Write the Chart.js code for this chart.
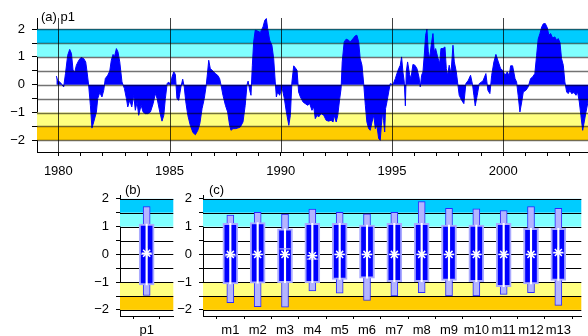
<!DOCTYPE html>
<html>
<head>
<meta charset="utf-8">
<script src="https://cdn.jsdelivr.net/npm/chart.js@4.4.1/dist/chart.umd.min.js"></script>
<style>
  html, body { margin: 0; padding: 0; background: #fff; }
  #wrap { position: relative; width: 588px; height: 336px; overflow: hidden; }
  canvas { position: absolute; }
</style>
</head>
<body>
<div id="wrap">
  <canvas id="chart-a" width="588" height="178" style="left:0;top:0"></canvas>
  <canvas id="chart-b" width="180" height="156" style="left:0;top:180px"></canvas>
  <canvas id="chart-c" width="412" height="156" style="left:176px;top:180px"></canvas>
</div>
<script>
// (a) p1 time series
const years = [
  1979.91, 1979.97, 1980.09, 1980.24, 1980.32, 1980.42, 1980.51, 1980.59, 1980.66, 1980.74,
  1980.81, 1980.92, 1981.02, 1981.14, 1981.23, 1981.29, 1981.36, 1981.44, 1981.51, 1981.59,
  1981.71, 1981.77, 1981.86, 1981.96, 1982.04, 1982.11, 1982.22, 1982.31, 1982.38, 1982.46,
  1982.52, 1982.61, 1982.68, 1982.76, 1982.86, 1982.97, 1983.06, 1983.12, 1983.21, 1983.30,
  1983.39, 1983.46, 1983.54, 1983.61, 1983.72, 1983.81, 1983.91, 1984.02, 1984.14, 1984.26,
  1984.36, 1984.44, 1984.56, 1984.66, 1984.74, 1984.81, 1984.89, 1984.96, 1985.04, 1985.11,
  1985.19, 1985.26, 1985.33, 1985.41, 1985.51, 1985.59, 1985.66, 1985.73, 1985.82, 1985.93,
  1986.05, 1986.16, 1986.27, 1986.36, 1986.46, 1986.56, 1986.65, 1986.71, 1986.76, 1986.83,
  1986.95, 1987.06, 1987.16, 1987.25, 1987.31, 1987.40, 1987.51, 1987.61, 1987.70, 1987.76,
  1987.85, 1987.96, 1988.06, 1988.18, 1988.30, 1988.40, 1988.48, 1988.53, 1988.60, 1988.66,
  1988.72, 1988.78, 1988.85, 1988.96, 1989.08, 1989.20, 1989.28, 1989.35, 1989.41, 1989.50,
  1989.60, 1989.68, 1989.75, 1989.80, 1989.86, 1989.95, 1990.05, 1990.16, 1990.25, 1990.36,
  1990.43, 1990.50, 1990.58, 1990.65, 1990.73, 1990.80, 1990.88, 1991.00, 1991.10, 1991.21,
  1991.30, 1991.40, 1991.48, 1991.55, 1991.63, 1991.70, 1991.81, 1991.93, 1992.04, 1992.15,
  1992.26, 1992.35, 1992.40, 1992.49, 1992.56, 1992.65, 1992.71, 1992.76, 1992.85, 1992.94,
  1993.05, 1993.12, 1993.25, 1993.35, 1993.42, 1993.50, 1993.57, 1993.65, 1993.73, 1993.80,
  1993.87, 1993.95, 1994.02, 1994.10, 1994.18, 1994.25, 1994.32, 1994.40, 1994.47, 1994.52,
  1994.58, 1994.62, 1994.67, 1994.71, 1994.77, 1994.85, 1994.92, 1995.04, 1995.15, 1995.22,
  1995.30, 1995.37, 1995.43, 1995.49, 1995.55, 1995.60, 1995.64, 1995.70, 1995.79, 1995.85,
  1995.94, 1996.03, 1996.12, 1996.21, 1996.27, 1996.33, 1996.39, 1996.45, 1996.51, 1996.57,
  1996.63, 1996.69, 1996.76, 1996.84, 1996.90, 1996.96, 1997.05, 1997.14, 1997.20, 1997.29,
  1997.38, 1997.44, 1997.50, 1997.57, 1997.65, 1997.74, 1997.80, 1997.89, 1998.02, 1998.13,
  1998.23, 1998.32, 1998.43, 1998.53, 1998.62, 1998.68, 1998.74, 1998.83, 1998.92, 1999.03,
  1999.10, 1999.22, 1999.31, 1999.40, 1999.48, 1999.58, 1999.67, 1999.78, 1999.88, 1999.97,
  2000.08, 2000.18, 2000.27, 2000.33, 2000.42, 2000.53, 2000.60, 2000.67, 2000.75, 2000.83,
  2000.90, 2001.02, 2001.12, 2001.23, 2001.32, 2001.42, 2001.50, 2001.57, 2001.65, 2001.73,
  2001.80, 2001.89, 2001.98, 2002.05, 2002.13, 2002.22, 2002.32, 2002.40, 2002.47, 2002.55,
  2002.62, 2002.70, 2002.77, 2002.85, 2002.92, 2003.00, 2003.07, 2003.18, 2003.27, 2003.34,
  2003.42, 2003.49, 2003.57, 2003.64, 2003.72, 2003.81,
];
const p1 = [
  0.31, 0.15, 0.08, -0.08, 0.40, 1.06, 1.27, 1.12, 0.52, 0.46,
  0.70, 0.88, 0.98, 0.94, 0.82, 0.46, 0.00, -0.74, -1.56, -1.34,
  -0.98, -0.50, -0.28, -0.44, -0.20, 0.22, 0.34, 0.49, 0.88, 1.09,
  1.00, 1.30, 1.18, 0.82, 0.10, -0.14, -0.50, -0.80, -0.56, -0.80,
  -0.38, -0.92, -0.62, -1.10, -0.74, -0.98, -1.04, -1.04, -0.98, -0.68,
  -0.32, -0.50, -0.98, -1.31, -1.10, -0.50, 0.04, 0.10, -0.02, 0.28,
  0.46, 0.37, -0.50, -0.56, -0.08, 0.20, -0.08, -0.62, -1.10, -1.46,
  -1.72, -1.80, -1.64, -1.40, -0.86, -0.50, 0.00, 0.46, 0.88, 0.58,
  0.49, 0.40, 0.34, 0.22, 0.00, -0.38, -0.74, -0.98, -1.46, -1.64,
  -1.58, -1.58, -1.56, -1.52, -1.34, -0.74, 0.00, 0.13, -0.20, -0.38,
  0.70, 1.54, 1.96, 1.93, 1.88, 2.08, 2.32, 2.38, 2.02, 1.60,
  1.42, 0.94, 0.10, -0.44, -0.26, -0.38, -0.08, -0.50, -0.98, -1.46,
  -1.10, 0.10, 0.68, 0.61, 0.52, -0.26, -0.44, -0.62, -0.68, -0.74,
  -0.68, -0.92, -0.80, -1.22, -1.10, -1.16, -1.04, -1.10, -1.28, -1.31,
  -1.28, -1.34, -1.10, -1.34, -1.10, -0.50, -0.14, 0.82, 1.54, 1.64,
  1.60, 1.54, 1.66, 1.76, 1.78, 1.54, 0.94, 0.70, 0.00, -0.74,
  -1.34, -1.58, -1.64, -1.34, -1.10, -1.58, -1.46, -1.94, -2.00, -1.46,
  -0.98, -1.28, -1.70, -0.86, -0.62, -0.26, 0.04, 0.00, 0.22, 0.40,
  0.58, 0.70, 1.00, 0.46, 0.10, -0.76, 0.46, 0.82, 0.37, 0.22,
  0.73, 0.70, 0.58, 0.28, -0.08, 0.34, 0.46, 1.06, 1.78, 2.00,
  1.18, 0.94, 1.42, 1.84, 1.18, 1.30, 1.00, 0.76, 1.30, 1.30,
  1.36, 0.58, 0.34, 0.70, 0.40, 1.42, 0.82, 0.46, -0.38, -0.56,
  -0.68, 0.04, 0.16, 0.34, 0.00, -0.38, -0.76, -0.38, 0.04, 0.10,
  0.16, 0.40, -0.20, -0.32, 0.34, 0.82, 1.09, 0.82, 0.58, 0.52,
  0.34, 0.46, 0.32, 0.68, 0.68, 0.22, 0.10, -0.38, -0.98, -0.62,
  -0.26, -0.20, -0.08, 0.22, 0.28, 0.40, 1.06, 1.64, 1.84, 2.08,
  2.19, 2.20, 2.05, 1.78, 1.84, 1.68, 1.72, 1.60, 1.66, 1.52,
  0.94, 0.70, 0.10, -0.26, -0.32, -0.20, -0.32, -0.28, -0.38, -0.26,
  -0.62, -1.10, -1.64, -1.34, -0.98, -0.62,
];
const yearTicks = [1980, 1981, 1982, 1983, 1984, 1985, 1986, 1987, 1988, 1989, 1990, 1991,
  1992, 1993, 1994, 1995, 1996, 1997, 1998, 1999, 2000, 2001, 2002, 2003];
const yearLines = [1980, 1985, 1990, 1995, 2000];
const levelTicks = [-2, -1.5, -1, -0.5, 0, 0.5, 1, 1.5, 2];

// shaded classes
const bandLo = [1.5, 1, -1.5, -2];
const bandHi = [2, 1.5, -1, -1.5];

// (b) whole series, (c) by member
const allCats = ["p1"];
const allWhiskLo = [-1.48];
const allWhiskHi = [1.72];
const allBoxLo = [-1.10];
const allBoxHi = [1.09];
const allMedian = [0.0];
const allMean = [0.04];

const memberCats = ["m1", "m2", "m3", "m4", "m5", "m6", "m7", "m8", "m9", "m10", "m11", "m12", "m13"];
const whiskLo = [-1.74, -1.88, -1.90, -1.32, -1.40, -1.66, -1.50, -1.38, -1.50, -1.50, -1.44, -1.38, -1.84];
const whiskHi = [1.42, 1.52, 1.45, 1.63, 1.52, 1.46, 1.52, 1.90, 1.66, 1.64, 1.58, 1.72, 1.66];
const boxLo = [-1.06, -1.04, -1.02, -1.02, -0.90, -0.86, -0.98, -0.98, -0.94, -0.98, -1.16, -1.06, -0.94];
const boxHi = [1.12, 1.15, 0.92, 1.12, 1.12, 1.06, 1.12, 1.12, 1.06, 1.06, 1.12, 0.94, 0.94];
const medians = [-0.05, 0.0, 0.2, -0.17, 0.0, 0.0, 0.0, 0.0, 0.0, 0.0, 0.0, 0.0, 0.05];
const means = [0.0, 0.0, 0.0, -0.05, 0.0, 0.0, 0.0, 0.0, 0.0, 0.0, 0.0, 0.0, 0.07];

const BAND_COLORS = ["#00ccff", "#80ffff", "#ffff80", "#ffcc00"];
const BLUE = "#0000ff";
const LAVENDER = "#aaaaff";

Chart.defaults.font.family = "'Liberation Sans', Arial, sans-serif";
Chart.defaults.font.size = 13;
Chart.defaults.color = "#000";

const minus = (v) => (v < 0 ? "\u2212" + Math.abs(v) : String(v));
const levelLabel = (v) => (Number.isInteger(v) ? minus(v) : "");

function hLines(chart, o) {
  const { ctx, chartArea: a, scales: { y } } = chart;
  ctx.save();
  ctx.strokeStyle = o.lineColor;
  ctx.lineWidth = o.lineWidth;
  levelTicks.forEach((v) => {
    const py = Math.round(y.getPixelForValue(v)) + 0.5;
    ctx.beginPath();
    ctx.moveTo(a.left, py);
    ctx.lineTo(a.right, py);
    ctx.stroke();
  });
  ctx.restore();
}

const bandPlugin = {
  id: "bands",
  beforeDatasetsDraw(chart, args, o) {
    const { ctx, chartArea: a, scales: { y } } = chart;
    ctx.save();
    bandLo.forEach((lo, i) => {
      const top = y.getPixelForValue(bandHi[i]);
      const bot = y.getPixelForValue(lo);
      ctx.fillStyle = BAND_COLORS[i];
      ctx.fillRect(a.left, top, a.right - a.left, bot - top);
    });
    ctx.restore();
    if (!o.linesOnTop) hLines(chart, o);
  },
  afterDatasetsDraw(chart, args, o) {
    const { ctx, chartArea: a, scales: { x } } = chart;
    if (o.linesOnTop) hLines(chart, o);
    if (o.vLines) {
      ctx.save();
      ctx.strokeStyle = "rgba(0,0,0,0.75)";
      ctx.lineWidth = 1;
      o.vLines.forEach((v) => {
        const px = Math.round(x.getPixelForValue(v)) + 0.5;
        ctx.beginPath();
        ctx.moveTo(px, a.top);
        ctx.lineTo(px, a.bottom);
        ctx.stroke();
      });
      ctx.restore();
    }
    ctx.save();
    ctx.fillStyle = "#000";
    ctx.font = "13px 'Liberation Sans', Arial, sans-serif";
    ctx.fillText(o.label, o.labelX, o.labelY);
    ctx.restore();
  },
};

const setTicks = (vals) => (s) => { s.ticks = vals.map((v) => ({ value: v })); };

new Chart(document.getElementById("chart-a"), {
  type: "line",
  data: {
    datasets: [{
      data: years.map((x, i) => ({ x, y: p1[i] })),
      fill: "origin",
      backgroundColor: BLUE,
      borderColor: BLUE,
      borderWidth: 1,
      pointRadius: 0,
      tension: 0,
    }],
  },
  options: {
    responsive: false,
    animation: false,
    layout: { padding: { top: 18, right: 0, left: 0, bottom: 0 } },
    plugins: {
      legend: { display: false },
      tooltip: { enabled: false },
      bands: { linesOnTop: true, lineColor: "rgba(0,0,0,0.55)", lineWidth: 1.5, vLines: yearLines, label: "(a) p1", labelX: 41, labelY: 21 },
    },
    scales: {
      x: {
        type: "linear", min: 1979.04, max: 2003.81,
        afterBuildTicks: setTicks(yearTicks),
        afterFit: (s) => { s.height = 26; },
        ticks: { callback: (v) => (v % 5 === 0 ? String(v) : ""), autoSkip: false, maxRotation: 0, padding: 8 },
        grid: { drawOnChartArea: false, tickLength: 4, color: "#000" },
        border: { color: "#000" },
      },
      y: {
        min: -2.42, max: 2.4,
        afterBuildTicks: setTicks(levelTicks),
        afterFit: (s) => { s.width = 37; },
        ticks: { callback: levelLabel, autoSkip: false, padding: 7 },
        grid: { drawOnChartArea: false, tickLength: 5, color: "#000" },
        border: { color: "#000" },
      },
    },
  },
  plugins: [bandPlugin],
});

function boxChart(id, cats, wLo, wHi, bLo, bHi, med, mean, opt) {
  const pos = cats.map((_, i) => i + 1);
  const pts = (arr) => pos.map((x, i) => ({ x, y: arr[i] }));
  const rng = (lo, hi) => pos.map((x, i) => ({ x, y: [lo[i], hi[i]] }));
  return new Chart(document.getElementById(id), {
    type: "bar",
    data: {
      datasets: [
        { type: "line", data: pts(mean), showLine: false, pointStyle: "star", pointRadius: 5,
          pointBorderColor: "#fff", pointBorderWidth: 1.5 },
        { type: "line", data: pts(med), showLine: false, pointStyle: "line", pointRadius: 5.5,
          pointBorderColor: LAVENDER, pointBorderWidth: 1.2 },
        { data: rng(bLo, bHi), backgroundColor: "#fff", barThickness: 1.5, grouped: false },
        { data: rng(bLo, bHi), backgroundColor: BLUE, borderColor: LAVENDER, borderWidth: 2,
          borderSkipped: false, barThickness: 15, grouped: false },
        { data: rng(wLo, wHi), backgroundColor: "#b4b4ff", borderColor: "#2828ff", borderWidth: 1,
          borderSkipped: false, barThickness: 7, grouped: false },
      ],
    },
    options: {
      responsive: false,
      animation: false,
      layout: { padding: { top: 15, right: opt.rightPad, left: 0, bottom: 0 } },
      plugins: {
        legend: { display: false },
        tooltip: { enabled: false },
        bands: { linesOnTop: false, lineColor: "#000", lineWidth: 1, label: opt.label, labelX: opt.labelX, labelY: 14 },
      },
      scales: {
        x: {
          type: "linear", min: 0, max: opt.xMax, offset: false,
          afterBuildTicks: setTicks([0, ...pos]),
          afterFit: (s) => { s.height = 20; },
          ticks: { callback: (v) => (v >= 1 ? cats[v - 1] : ""), autoSkip: false, maxRotation: 0, padding: 4 },
          grid: { drawOnChartArea: false, tickLength: 3, color: "#000" },
          border: { color: "#000" },
        },
        y: {
          min: -2.22, max: 2.14,
          afterBuildTicks: setTicks(levelTicks),
          afterFit: (s) => { s.width = opt.yWidth; },
          ticks: { callback: levelLabel, autoSkip: false, padding: 7 },
          grid: { drawOnChartArea: false, tickLength: 4, color: "#000" },
          border: { color: "#000" },
        },
      },
    },
    plugins: [bandPlugin],
  });
}

boxChart("chart-b", allCats, allWhiskLo, allWhiskHi, allBoxLo, allBoxHi, allMedian, allMean,
  { rightPad: 4, xMax: 2, yWidth: 120, label: "(b)", labelX: 125 });
boxChart("chart-c", memberCats, whiskLo, whiskHi, boxLo, boxHi, medians, means,
  { rightPad: 0, xMax: 13.84, yWidth: 27, label: "(c)", labelX: 33 });
</script>
</body>
</html>
